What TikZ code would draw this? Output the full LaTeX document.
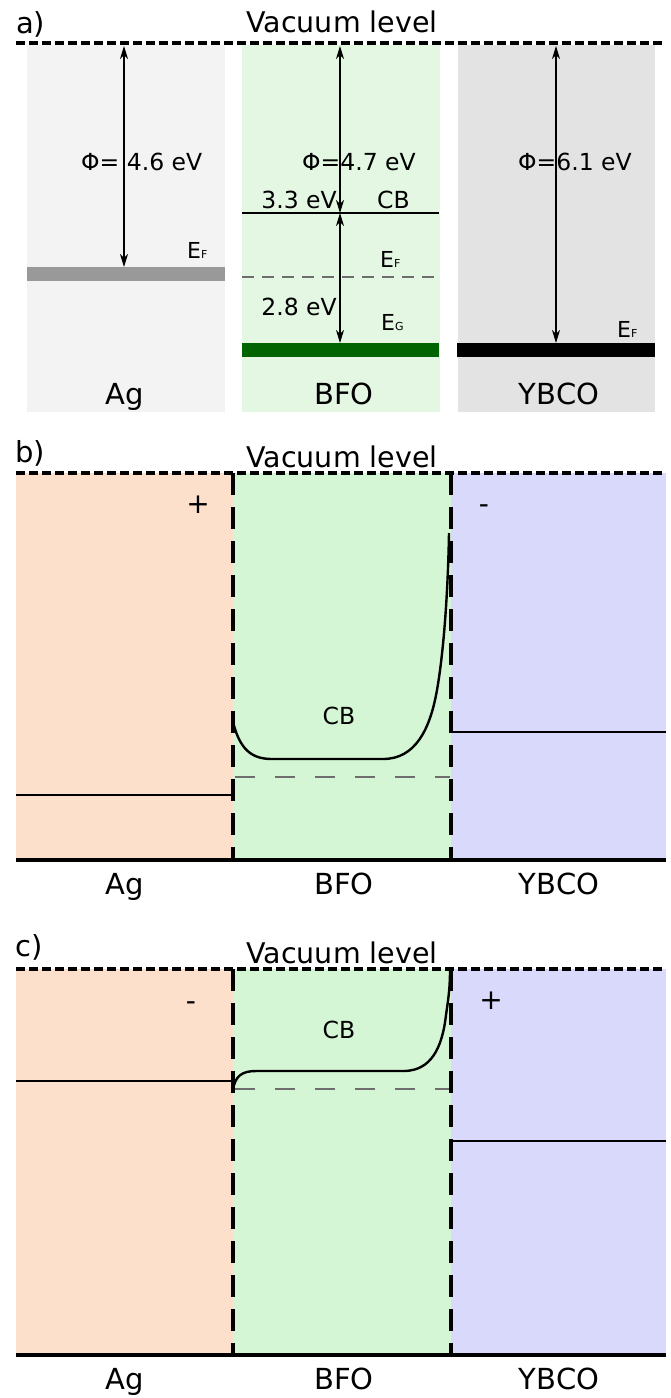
\documentclass[tikz,border=0pt]{standalone}
\usepackage{fontspec}
\setmainfont{DejaVu Sans}
\usetikzlibrary{arrows.meta}
\definecolor{agA}{HTML}{F3F3F3}
\definecolor{bfoA}{HTML}{E3F7E3}
\definecolor{ybcoA}{HTML}{E3E3E3}
\definecolor{agBarC}{HTML}{999999}
\definecolor{bfoBarC}{HTML}{006400}
\definecolor{agB}{HTML}{FDE0CC}
\definecolor{bfoB}{HTML}{D4F6D4}
\definecolor{ybcoB}{HTML}{D9D9FB}
\definecolor{efgray}{HTML}{6E6E6E}
\newcommand\Esub[1]{E{\fontsize{11}{11}\selectfont #1}}
\begin{document}
\begin{tikzpicture}[x=1pt,y=-1pt,
  vac/.style={line width=4.5pt, dash pattern=on 8.5pt off 4.5pt},
  bound/.style={line width=3.5pt, dash pattern=on 22pt off 12pt},
  efb/.style={line width=2pt, efgray, dash pattern=on 20pt off 20pt},
  efa/.style={line width=2pt, efgray, dash pattern=on 12pt off 8pt},
  lvl/.style={line width=1.6pt},
  band/.style={line width=2.4pt},
  dimarrow/.style={line width=1.3pt, {Stealth[length=13pt,width=8pt,inset=4pt]}-{Stealth[length=13pt,width=8pt,inset=4pt]}},
  big/.style={font=\fontsize{29}{29}\selectfont, inner sep=0pt, anchor=base},
  vl/.style={font=\fontsize{28.5}{28.5}\selectfont, inner sep=0pt, anchor=base},
  mid/.style={font=\fontsize{23.5}{23.5}\selectfont, inner sep=0pt},
  efl/.style={font=\fontsize{22}{22}\selectfont, inner sep=0pt, anchor=base west},
  sign/.style={font=\fontsize{28}{28}\selectfont, inner sep=0pt}
]
\useasboundingbox (0,0) rectangle (670,1398);

% ================= panel a =================
\fill[agA] (27,45) rectangle (225,412);
\fill[bfoA] (242,45) rectangle (440,412);
\fill[ybcoA] (458,45) rectangle (655,412);
\draw[vac] (16,43) -- (666,43);
\node[big, anchor=base west] (la) at (16,33) {a)};
\node[vl] (vaca) at (342,32) {Vacuum level};

\fill[agBarC] (27,267) rectangle (225,281);
\fill[bfoBarC] (242,343) rectangle (439,357);
\fill[black] (457,343) rectangle (655,357);
\draw[lvl] (242,213) -- (439,213);
\draw[efa] (242,277) -- (437,277);

\coordinate (vAg) at (124,46);
\coordinate (fAg) at (124,267);
\coordinate (vBfo) at (340,46);
\coordinate (cBfo) at (340,213);
\coordinate (gBfo) at (340,343);
\coordinate (vYb) at (556,46);
\coordinate (fYb) at (556,343);
\draw[dimarrow] (vAg) -- (fAg);
\draw[dimarrow] (vBfo) -- (cBfo);
\draw[dimarrow] (cBfo) -- (gBfo);
\draw[dimarrow] (vYb) -- (fYb);

\node[mid, anchor=base west] (phiAg) at (81,170) {Φ= 4.6 eV};
\node[mid, anchor=base west] (phiBfo) at (302,170) {Φ=4.7 eV};
\node[mid, anchor=base west] (phiYb) at (518,170) {Φ=6.1 eV};
\node[mid, anchor=base east] (gap1) at (337,208) {3.3 eV};
\node[mid, anchor=base west] (cba) at (377,208) {CB};
\node[mid, anchor=base east] (gap2) at (337,315) {2.8 eV};
\node[efl] (efAg) at (187,258) {\Esub{F}};
\node[efl] (efBfo) at (380,267) {\Esub{F}};
\node[efl] (egBfo) at (381,330) {\Esub{G}};
\node[efl] (efYb) at (617,337) {\Esub{F}};

\node[big] (agA) at (125,404) {Ag};
\node[big] (bfoA) at (344,404) {BFO};
\node[big] (ybA) at (559,404) {YBCO};

% ================= panel b =================
\fill[agB] (16,473) rectangle (233,860);
\fill[bfoB] (233,473) rectangle (451,860);
\fill[ybcoB] (451,473) rectangle (666,860);
\draw[lvl] (16,795) -- (232,795);
\draw[lvl] (451,732) -- (666,732);
\draw[efb] (235,777) -- (450,777);
\draw[band] (233,722) .. controls (240,750) and (252,759) .. (272,759)
  -- (383,759) .. controls (415,759) and (430,730) .. (437,690)
  .. controls (444,650) and (448,590) .. (449,533);
\draw[bound] (233,473) -- (233,860);
\draw[bound] (451,473) -- (451,860);
\draw[vac] (16,473) -- (666,473);
\draw[line width=4pt] (16,860) -- (666,860);
\node[big, anchor=base west] (lb) at (15,462) {b)};
\node[vl] (vacb) at (342,467) {Vacuum level};
\node[sign] (plusb) at (198,505) {+};
\node[sign, anchor=base] (minusb) at (484,513) {-};
\node[mid, anchor=base] (cbb) at (339,724) {CB};
\node[big] (agBl) at (125,894) {Ag};
\node[big] (bfoBl) at (344,894) {BFO};
\node[big] (ybBl) at (559,894) {YBCO};

% ================= panel c =================
\fill[agB] (16,969) rectangle (233,1355);
\fill[bfoB] (233,969) rectangle (451,1355);
\fill[ybcoB] (451,969) rectangle (666,1355);
\draw[lvl] (16,1081) -- (232,1081);
\draw[lvl] (451,1141) -- (666,1141);
\draw[efb] (235,1089) -- (450,1089);
\draw[band] (233,1090) .. controls (235,1076) and (242,1071) .. (256,1071)
  -- (405,1071) .. controls (430,1070) and (442,1050) .. (446,1015)
  .. controls (449,995) and (450,985) .. (450,970);
\draw[bound] (233,969) -- (233,1355);
\draw[bound] (451,969) -- (451,1355);
\draw[vac] (16,969) -- (666,969);
\draw[line width=4pt] (16,1355) -- (666,1355);
\node[big, anchor=base west] (lc) at (15,956) {c)};
\node[vl] (vacc) at (342,963) {Vacuum level};
\node[sign, anchor=base] (minusc) at (191,1010) {-};
\node[sign] (plusc) at (491,1001) {+};
\node[mid, anchor=base] (cbc) at (339,1038) {CB};
\node[big] (agCl) at (125,1389) {Ag};
\node[big] (bfoCl) at (344,1389) {BFO};
\node[big] (ybCl) at (559,1389) {YBCO};
\end{tikzpicture}
\end{document}
